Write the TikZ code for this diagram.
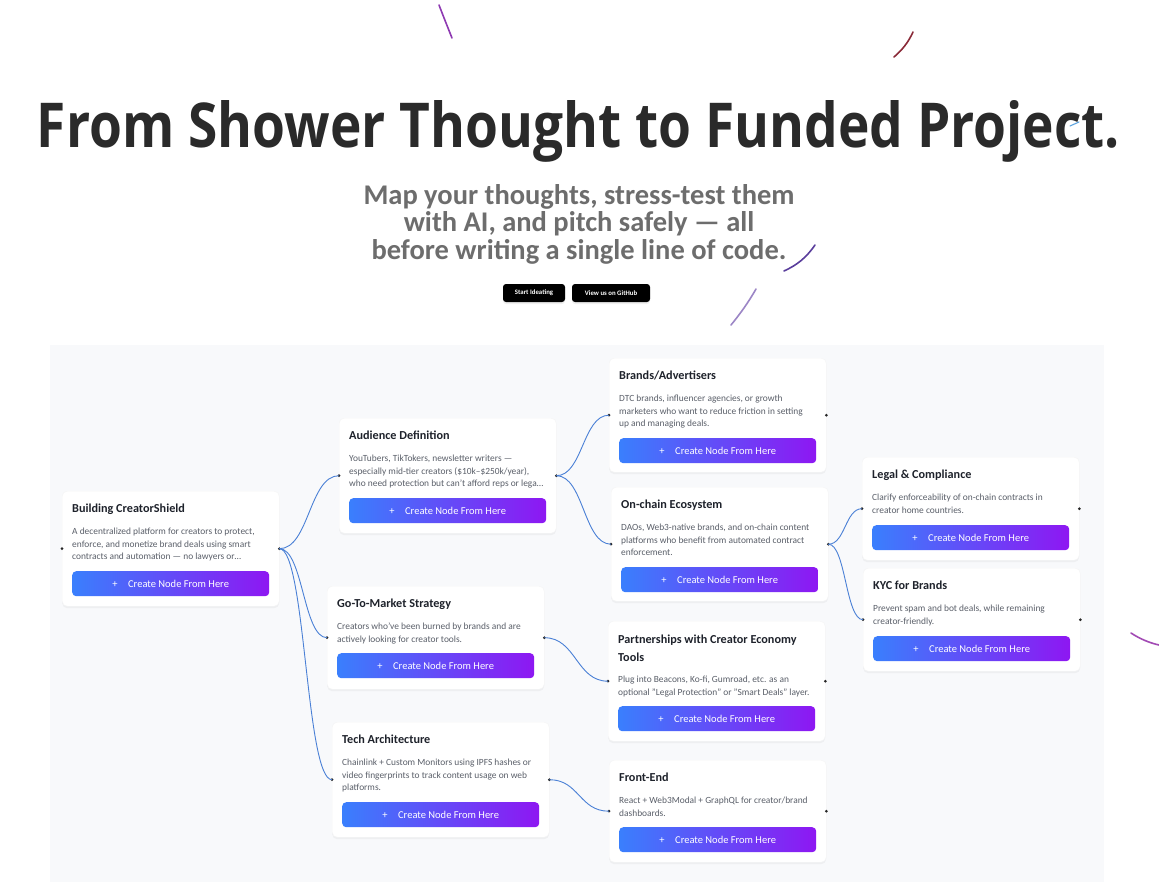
\documentclass[tikz,border=0pt]{standalone}
\usepackage{fontspec}
\setmainfont{Carlito}
\newfontfamily\headfont{Open Sans}
\usetikzlibrary{calc,shadows}

\definecolor{canvasbg}{HTML}{F8F9FB}
\definecolor{edgeblue}{HTML}{4A80D6}
\definecolor{btnblue}{HTML}{3A7FFD}
\definecolor{btnpurple}{HTML}{8E17F2}
\definecolor{cardtitle}{HTML}{1E222B}
\definecolor{cardtext}{HTML}{5A5F69}
\definecolor{subgray}{HTML}{6D6D6D}
\definecolor{headdark}{HTML}{2A2A2A}
\definecolor{streakviolet}{HTML}{8E3AB2}
\definecolor{streakred}{HTML}{8A2A38}
\definecolor{streakcyan}{HTML}{5BA3E0}
\definecolor{streakindigo}{HTML}{5A3E9C}
\definecolor{streaklilac}{HTML}{9C86C6}
\definecolor{streakmagenta}{HTML}{A24AB4}

\tikzset{
  card/.style={anchor=north west, fill=white, draw=black!4, rounded corners=5pt,
    minimum width=217pt, inner sep=0pt,
    drop shadow={opacity=0.08, shadow xshift=0pt, shadow yshift=-2pt}},
  cardhead/.style={anchor=north west, inner sep=0pt, text=cardtitle, align=left,
    font=\fontsize{12.2}{18}\selectfont\bfseries},
  cardbody/.style={anchor=north west, inner sep=0pt, text=cardtext, align=left,
    font=\fontsize{9.4}{12.3}\selectfont},
  createbtn/.style={anchor=north west, minimum width=197pt, minimum height=25pt,
    inner sep=0pt, rounded corners=4pt, left color=btnblue, right color=btnpurple,
    text=white, font=\fontsize{10.5}{12}\selectfont},
  handle/.style={circle, fill=black!85, inner sep=0pt, minimum size=3pt},
  link/.style={edgeblue, line width=0.9pt,
    to path={let \p1=(\tikztostart), \p2=(\tikztotarget) in
      .. controls ({0.5*\x1+0.5*\x2},\y1) and ({0.5*\x1+0.5*\x2},\y2) .. (\tikztotarget)}},
  streak/.style={line width=1.6pt, line cap=round},
  topbtn/.style={fill=black, rounded corners=3pt, text=white, minimum height=18pt,
    inner sep=0pt, font=\fontsize{6.8}{7}\selectfont\bfseries,
    drop shadow={opacity=0.12, shadow xshift=0pt, shadow yshift=-2pt}}
}

\begin{document}
\begin{tikzpicture}[x=1pt,y=-1pt]
  \useasboundingbox (0,0) rectangle (1159,894);
  \fill[white] (0,0) rectangle (1159,894);

  % heading
  \node[anchor=base, text=headdark, inner sep=0pt] (headline) at (578.5,147)
    {\resizebox{1083pt}{47pt}{\headfont\bfseries\fontsize{60}{60}\selectfont From Shower Thought to Funded Project.}};
  \node[anchor=north, text=subgray, align=center, inner sep=0pt,
    font=\fontsize{28.5}{27.5}\selectfont\bfseries] (tagline) at (579,184)
    {Map your thoughts, stress-test them\\with AI, and pitch safely — all\\before writing a single line of code.};
  \node[topbtn, minimum width=62pt] (start) at (534,293) {Start Ideating};
  \node[topbtn, minimum width=78pt] (github) at (611,293) {View us on GitHub};

  % canvas
  \fill[canvasbg] (50,345) rectangle (1104,882);

  % cards
  \node[card, minimum height=115pt] (root) at (62,491) {};
  \node[cardhead] (root-head) at ([shift={(10,13)}]root.north west) {Building CreatorShield};
  \node[cardbody] (root-body) at ([shift={(10,37)}]root.north west)
    {A decentralized platform for creators to protect,\\enforce, and monetize brand deals using smart\\contracts and automation — no lawyers or…};
  \node[createbtn] (root-btn) at ([shift={(10,80)}]root.north west) {+\quad Create Node From Here};
  \node[handle] (root-in) at (root.west) {};
  \node[handle] (root-out) at (root.east) {};

  \node[card, minimum height=115pt] (aud) at (339,418) {};
  \node[cardhead] (aud-head) at ([shift={(10,13)}]aud.north west) {Audience Definition};
  \node[cardbody] (aud-body) at ([shift={(10,37)}]aud.north west)
    {YouTubers, TikTokers, newsletter writers —\\especially mid-tier creators (\$10k–\$250k/year),\\who need protection but can't afford reps or lega…};
  \node[createbtn] (aud-btn) at ([shift={(10,80)}]aud.north west) {+\quad Create Node From Here};
  \node[handle] (aud-in) at (aud.west) {};
  \node[handle] (aud-out) at (aud.east) {};

  \node[card, minimum height=114pt] (brand) at (609,358) {};
  \node[cardhead] (brand-head) at ([shift={(10,13)}]brand.north west) {Brands/Advertisers};
  \node[cardbody] (brand-body) at ([shift={(10,37)}]brand.north west)
    {DTC brands, influencer agencies, or growth\\marketers who want to reduce friction in setting\\up and managing deals.};
  \node[createbtn] (brand-btn) at ([shift={(10,80)}]brand.north west) {+\quad Create Node From Here};
  \node[handle] (brand-in) at (brand.west) {};
  \node[handle] (brand-out) at (brand.east) {};

  \node[card, minimum height=114pt] (chain) at (611,487) {};
  \node[cardhead] (chain-head) at ([shift={(10,13)}]chain.north west) {On-chain Ecosystem};
  \node[cardbody] (chain-body) at ([shift={(10,37)}]chain.north west)
    {DAOs, Web3-native brands, and on-chain content\\platforms who benefit from automated contract\\enforcement.};
  \node[createbtn] (chain-btn) at ([shift={(10,80)}]chain.north west) {+\quad Create Node From Here};
  \node[handle] (chain-in) at (chain.west) {};
  \node[handle] (chain-out) at (chain.east) {};

  \node[card, minimum height=103pt] (legal) at (862,457) {};
  \node[cardhead] (legal-head) at ([shift={(10,13)}]legal.north west) {Legal \& Compliance};
  \node[cardbody] (legal-body) at ([shift={(10,37)}]legal.north west)
    {Clarify enforceability of on-chain contracts in\\creator home countries.};
  \node[createbtn] (legal-btn) at ([shift={(10,68)}]legal.north west) {+\quad Create Node From Here};
  \node[handle] (legal-in) at (legal.west) {};
  \node[handle] (legal-out) at (legal.east) {};

  \node[card, minimum height=103pt] (kyc) at (863,568) {};
  \node[cardhead] (kyc-head) at ([shift={(10,13)}]kyc.north west) {KYC for Brands};
  \node[cardbody] (kyc-body) at ([shift={(10,37)}]kyc.north west)
    {Prevent spam and bot deals, while remaining\\creator-friendly.};
  \node[createbtn] (kyc-btn) at ([shift={(10,68)}]kyc.north west) {+\quad Create Node From Here};
  \node[handle] (kyc-in) at (kyc.west) {};
  \node[handle] (kyc-out) at (kyc.east) {};

  \node[card, minimum height=103pt] (gtm) at (327,586) {};
  \node[cardhead] (gtm-head) at ([shift={(10,13)}]gtm.north west) {Go-To-Market Strategy};
  \node[cardbody] (gtm-body) at ([shift={(10,37)}]gtm.north west)
    {Creators who've been burned by brands and are\\actively looking for creator tools.};
  \node[createbtn] (gtm-btn) at ([shift={(10,67)}]gtm.north west) {+\quad Create Node From Here};
  \node[handle] (gtm-in) at (gtm.west) {};
  \node[handle] (gtm-out) at (gtm.east) {};

  \node[card, minimum height=120pt] (partner) at (608,621) {};
  \node[cardhead] (partner-head) at ([shift={(10,14)}]partner.north west) {Partnerships with Creator Economy\\Tools};
  \node[cardbody] (partner-body) at ([shift={(10,55)}]partner.north west)
    {Plug into Beacons, Ko-fi, Gumroad, etc. as an\\optional "Legal Protection" or "Smart Deals" layer.};
  \node[createbtn] (partner-btn) at ([shift={(10,85)}]partner.north west) {+\quad Create Node From Here};
  \node[handle] (partner-in) at (partner.west) {};
  \node[handle] (partner-out) at (partner.east) {};

  \node[card, minimum height=115pt] (tech) at (332,722) {};
  \node[cardhead] (tech-head) at ([shift={(10,13)}]tech.north west) {Tech Architecture};
  \node[cardbody] (tech-body) at ([shift={(10,37)}]tech.north west)
    {Chainlink + Custom Monitors using IPFS hashes or\\video fingerprints to track content usage on web\\platforms.};
  \node[createbtn] (tech-btn) at ([shift={(10,80)}]tech.north west) {+\quad Create Node From Here};
  \node[handle] (tech-in) at (tech.west) {};
  \node[handle] (tech-out) at (tech.east) {};

  \node[card, minimum height=102pt] (front) at (609,760) {};
  \node[cardhead] (front-head) at ([shift={(10,13)}]front.north west) {Front-End};
  \node[cardbody] (front-body) at ([shift={(10,37)}]front.north west)
    {React + Web3Modal + GraphQL for creator/brand\\dashboards.};
  \node[createbtn] (front-btn) at ([shift={(10,67)}]front.north west) {+\quad Create Node From Here};
  \node[handle] (front-in) at (front.west) {};
  \node[handle] (front-out) at (front.east) {};

  % connectors
  \draw[link] (root-out.center) to (aud-in.center);
  \draw[link] (root-out.center) to (gtm-in.center);
  \draw[link] (root-out.center) to (tech-in.center);
  \draw[link] (aud-out.center) to (brand-in.center);
  \draw[link] (aud-out.center) to (chain-in.center);
  \draw[link] (chain-out.center) to (legal-in.center);
  \draw[link] (chain-out.center) to (kyc-in.center);
  \draw[link] (gtm-out.center) to (partner-in.center);
  \draw[link] (tech-out.center) to (front-in.center);

  % streaks
  \draw[streak, streakviolet] (439,5) .. controls (444,18) and (448,28) .. (452,38);
  \draw[streak, streakred] (913,32) .. controls (908,43) and (902,50) .. (894,57);
  \draw[streak, streakcyan, line width=1.1pt] (1070,126) -- (1079,122);
  \draw[streak, streakindigo] (815,245) .. controls (806,258) and (797,265) .. (784,271);
  \draw[streak, streaklilac] (756,289) .. controls (748,303) and (740,314) .. (731,325);
  \draw[streak, streakmagenta] (1131,633) .. controls (1140,639) and (1150,643) .. (1159,645);
\end{tikzpicture}
\end{document}
